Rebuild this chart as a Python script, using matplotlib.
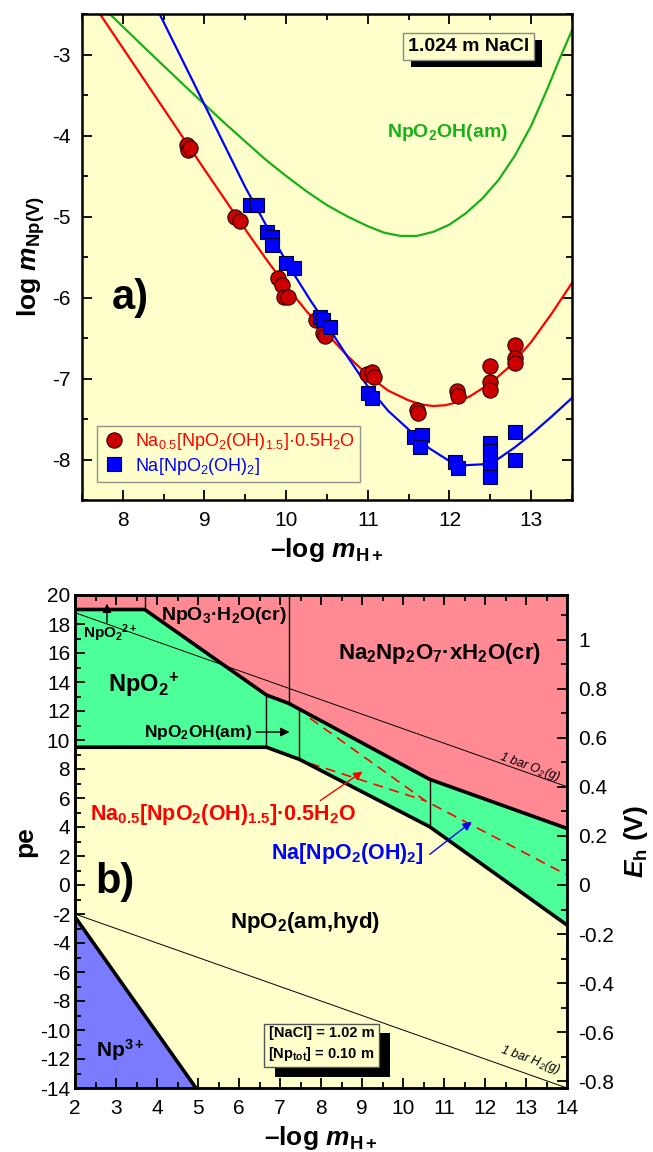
import numpy as np
import matplotlib
matplotlib.use("Agg")
import matplotlib.pyplot as plt
from matplotlib.ticker import MultipleLocator, FuncFormatter
import matplotlib.patheffects as pe_fx

plt.rcParams['font.family'] = ['Liberation Sans', 'DejaVu Sans']
plt.rcParams['mathtext.fontset'] = 'custom'
plt.rcParams['mathtext.rm'] = 'Liberation Sans'
plt.rcParams['mathtext.it'] = 'Liberation Sans:italic'
plt.rcParams['mathtext.bf'] = 'Liberation Sans:bold'
plt.rcParams['mathtext.bfit'] = 'Liberation Sans:italic:bold'

# ---------------- Panel a data ----------------
red_pts_x = [8.78, 8.80, 8.82, 9.37, 9.43, 9.90, 9.95, 9.97, 10.02, 10.37, 10.45, 10.48,
             10.99, 11.05, 11.07, 11.60, 11.62, 12.09, 12.11, 12.50, 12.50, 12.50,
             12.80, 12.80, 12.80]
red_pts_y = [-4.12, -4.18, -4.15, -5.00, -5.06, -5.76, -5.85, -5.99, -5.99, -6.28, -6.44, -6.48,
             -6.94, -6.92, -6.98, -7.39, -7.43, -7.16, -7.22, -6.84, -7.04, -7.14,
             -6.59, -6.75, -6.81]
blue_pts_x = [9.56, 9.64, 9.76, 9.83, 9.83, 10.00, 10.09, 10.41, 10.45, 10.54, 11.00, 11.05,
              11.56, 11.66, 11.64, 12.07, 12.11, 12.50, 12.50, 12.50, 12.50, 12.50, 12.80, 12.80]
blue_pts_y = [-4.86, -4.86, -5.19, -5.25, -5.35, -5.58, -5.64, -6.24, -6.28, -6.36, -7.18, -7.24,
              -7.72, -7.70, -7.84, -8.03, -8.11, -7.80, -7.90, -8.00, -8.11, -8.21, -7.66, -8.00]

red_curve_x = [7.72, 8.0, 8.5, 9.0, 9.5, 9.75, 10.0, 10.25, 10.5, 10.75, 11.0, 11.25, 11.5,
               11.65, 11.8, 11.95, 12.1, 12.25, 12.5, 12.75, 13.0, 13.25, 13.5]
red_curve_y = [-2.5, -2.92, -3.67, -4.42, -5.16, -5.52, -5.86, -6.17, -6.45, -6.72, -6.96, -7.15,
               -7.27, -7.32, -7.34, -7.33, -7.29, -7.22, -7.06, -6.84, -6.55, -6.2, -5.82]
blue_curve_x = [8.45, 9.0, 9.5, 9.75, 9.9, 10.1, 10.3, 10.5, 10.75, 11.0, 11.25, 11.5, 11.75,
                12.0, 12.2, 12.4, 12.6, 12.8, 13.0, 13.25, 13.5]
blue_curve_y = [-2.5, -3.62, -4.64, -5.1, -5.38, -5.72, -6.04, -6.34, -6.73, -7.1, -7.4, -7.63,
                -7.86, -8.02, -8.07, -8.06, -7.99, -7.85, -7.69, -7.47, -7.24]
green_curve_x = [7.84, 8.25, 8.75, 9.25, 9.75, 10.0, 10.25, 10.5, 10.75, 11.0, 11.2, 11.4,
                 11.6, 11.8, 12.0, 12.2, 12.4, 12.6, 12.8, 13.0, 13.2, 13.35, 13.5]
green_curve_y = [-2.5, -2.9, -3.38, -3.85, -4.3, -4.5, -4.69, -4.86, -5.0, -5.12, -5.2, -5.24,
                 -5.24, -5.19, -5.1, -4.96, -4.78, -4.55, -4.25, -3.88, -3.42, -3.05, -2.7]

# ---------------- Panel b data ----------------
upper_x = [2, 3.70, 6.67, 7.21, 10.65, 14]
upper_pe = [19, 19, 13.1, 12.53, 7.29, 3.9]
lower_x = [2, 6.67, 7.47, 10.65, 14]
lower_pe = [9.5, 9.5, 8.67, 4.02, -2.76]
np3_x = [2, 4.95]
np3_pe = [-2.2, -14]
vline_x = [3.70, 7.21, 6.67, 7.47, 10.65]
vline_lo = [19, 12.53, 9.5, 8.67, 4.02]
vline_hi = [20, 20, 13.1, 12.13, 7.29]
dash1_x = [7.73, 10.55, 14]
dash1_pe = [11.5, 5.8, 0.69]
dash2_x = [7.73, 10.55]
dash2_pe = [8.39, 5.8]
o2_x = [2, 14]
o2_pe = [18.78, 6.78]
h2_x = [2, 14]
h2_pe = [-2, -14]

YELLOW = '#FFFFCC'
PINK = '#FF8A93'
GREEN = '#4CFF98'
BLUE_FILL = '#7B7BFF'


def sub(s):
    return r'$_{\mathdefault{' + s + '}}$'


def sup(s):
    return r'$^{\mathdefault{' + s + '}}$'


fig = plt.figure(figsize=(6.53, 11.52), dpi=100)

# ================= Panel a =================
axa = fig.add_axes([82/653, 1-500/1152, 490/653, 486/1152])
axa.set_facecolor(YELLOW)
axa.plot(green_curve_x, green_curve_y, color='#18B018', lw=1.6, zorder=2)
axa.plot(red_curve_x, red_curve_y, color='#FF0000', lw=1.6, zorder=2)
axa.plot(blue_curve_x, blue_curve_y, color='#0000FF', lw=1.6, zorder=2)
axa.plot(red_pts_x, red_pts_y, 'o', ms=11, mfc='#CC0000', mec='#300000', mew=0.8, ls='none',
         zorder=3, label='Na' + sub('0.5') + '[NpO' + sub('2') + '(OH)' + sub('1.5') + ']·0.5H' + sub('2') + 'O')
axa.plot(blue_pts_x, blue_pts_y, 's', ms=10.5, mfc='#0000FF', mec='#000030', mew=0.8, ls='none',
         zorder=3, label='Na[NpO' + sub('2') + '(OH)' + sub('2') + ']')
axa.set_xlim(7.5, 13.5)
axa.set_ylim(-8.5, -2.5)
axa.xaxis.set_major_locator(MultipleLocator(1))
axa.xaxis.set_minor_locator(MultipleLocator(0.5))
axa.yaxis.set_major_locator(MultipleLocator(1))
axa.yaxis.set_minor_locator(MultipleLocator(0.5))
fmt = FuncFormatter(lambda v, p: f'{round(v, 3) + 0:g}')
axa.xaxis.set_major_formatter(fmt)
axa.yaxis.set_major_formatter(fmt)
axa.tick_params(which='both', direction='in', top=True, right=True, labelsize=15, width=1.3)
axa.tick_params(which='major', length=7, pad=8)
axa.tick_params(which='minor', length=4)
for s in axa.spines.values():
    s.set_linewidth(1.8)
axa.set_xlabel('–log $\\mathbfit{m}$' + sub('H+'), fontsize=19, fontweight='bold', labelpad=4)
axa.set_ylabel('log $\\mathbfit{m}$' + sub('Np(V)'), fontsize=19, fontweight='bold', labelpad=4)
leg = axa.legend(loc='lower left', bbox_to_anchor=(0.031, 0.037), borderaxespad=0, fontsize=13,
                 frameon=True, fancybox=False, edgecolor='#777777', facecolor=YELLOW,
                 handletextpad=0.5, borderpad=0.3, labelspacing=0.2, handlelength=1.3)
leg.get_frame().set_linewidth(1.0)
leg.get_texts()[0].set_color('#FF0000')
leg.get_texts()[1].set_color('#0000FF')
t = axa.text(12.23, -2.9, '1.024 m NaCl', fontsize=14, fontweight='bold', ha='center', va='center',
             bbox=dict(boxstyle='square,pad=0.25', fc=YELLOW, ec='#888888', lw=1.0), zorder=5)
t.get_bbox_patch().set_path_effects([pe_fx.withSimplePatchShadow(offset=(6, -5), shadow_rgbFace='k', alpha=1.0)])
axa.text(11.98, -3.96, 'NpO' + sub('2') + 'OH(am)', color='#18B018', fontsize=14, fontweight='bold',
         ha='center', va='center')
axa.text(8.09, -6.0, 'a)', fontsize=30, fontweight='bold', ha='center', va='center')

# ================= Panel b =================
axb = fig.add_axes([75/653, 1-1088/1152, 492/653, 493/1152])
axb.set_facecolor(YELLOW)
axb.set_xlim(2, 14)
axb.set_ylim(-14, 20)
axb.fill_between(upper_x, upper_pe, 20, color=PINK, lw=0, zorder=1)
axb.fill(list(upper_x) + list(lower_x[::-1]), list(upper_pe) + list(lower_pe[::-1]),
         color=GREEN, lw=0, zorder=1)
axb.fill(np3_x + [np3_x[0]], np3_pe + [np3_pe[1]], color=BLUE_FILL, lw=0, zorder=1)
axb.plot(upper_x, upper_pe, color='k', lw=2.6, zorder=4, solid_joinstyle='miter')
axb.plot(lower_x, lower_pe, color='k', lw=2.6, zorder=4, solid_joinstyle='miter')
axb.plot(np3_x, np3_pe, color='k', lw=2.6, zorder=4)
axb.vlines(vline_x, vline_lo, vline_hi, color='k', lw=1.0, zorder=3)
axb.plot(o2_x, o2_pe, color='k', lw=0.7, zorder=3)
axb.plot(h2_x, h2_pe, color='k', lw=0.7, zorder=3)
axb.plot(dash1_x, dash1_pe, color='#FF0000', lw=1.2, ls=(0, (6, 4)), zorder=3)
axb.plot(dash2_x, dash2_pe, color='#FF0000', lw=1.2, ls=(0, (6, 4)), zorder=3)

axb.xaxis.set_major_locator(MultipleLocator(1))
axb.xaxis.set_minor_locator(MultipleLocator(0.5))
axb.yaxis.set_major_locator(MultipleLocator(2))
axb.yaxis.set_minor_locator(MultipleLocator(1))
axb.xaxis.set_major_formatter(fmt)
axb.yaxis.set_major_formatter(fmt)
axb.tick_params(which='both', direction='in', top=True, right=False, labelsize=15, width=1.3, zorder=6)
axb.tick_params(which='major', length=7)
axb.tick_params(which='minor', length=4)
axb.tick_params(axis='x', pad=8)
for s in axb.spines.values():
    s.set_linewidth(1.8)
    s.set_zorder(6)
axb.set_xlabel('–log $\\mathbfit{m}$' + sub('H+'), fontsize=19, fontweight='bold', labelpad=4)
axb.set_ylabel('pe', fontsize=19, fontweight='bold', labelpad=2)

ax2 = axb.twinx()
ax2.set_ylim(-14 * 0.05916, 20 * 0.05916)
ax2.yaxis.set_major_locator(MultipleLocator(0.2))
ax2.yaxis.set_minor_locator(MultipleLocator(0.1))
ax2.yaxis.set_major_formatter(fmt)
ax2.tick_params(which='both', direction='in', labelsize=15, width=1.3)
ax2.tick_params(which='major', length=7, pad=8)
ax2.tick_params(which='minor', length=4)
for s in ax2.spines.values():
    s.set_linewidth(1.8)
ax2.set_ylabel('$\\mathbfit{E}$' + sub('h') + ' (V)', fontsize=19, fontweight='bold', labelpad=6)

# labels panel b
axb.text(5.63, 18.6, 'NpO' + sub('3') + '·H' + sub('2') + 'O(cr)', fontsize=14, fontweight='bold',
         ha='center', va='center', zorder=5)
axb.text(10.9, 16.0, 'Na' + sub('2') + 'Np' + sub('2') + 'O' + sub('7') + '·xH' + sub('2') + 'O(cr)',
         fontsize=16, fontweight='bold', ha='center', va='center', zorder=5)
axb.text(3.68, 13.8, 'NpO' + sub('2') + sup('+'), fontsize=17, fontweight='bold',
         ha='center', va='center', zorder=5)
axb.text(2.85, 17.4, 'NpO' + sub('2') + sup('2+'), fontsize=11, fontweight='bold',
         ha='center', va='center', zorder=5)
axb.annotate('', xy=(2.78, 19.6), xytext=(2.78, 17.9),
             arrowprops=dict(arrowstyle='-|>', color='k', lw=1.0, mutation_scale=13), zorder=5)
axb.text(4.99, 10.55, 'NpO' + sub('2') + 'OH(am)', fontsize=12.5, fontweight='bold',
         ha='center', va='center', zorder=5)
axb.annotate('', xy=(7.3, 10.55), xytext=(6.35, 10.55),
             arrowprops=dict(arrowstyle='-|>', color='k', lw=1.0, mutation_scale=13), zorder=5)
axb.text(5.6, 4.83, 'Na' + sub('0.5') + '[NpO' + sub('2') + '(OH)' + sub('1.5') + ']·0.5H' + sub('2') + 'O',
         color='#FF0000', fontsize=15.5, fontweight='bold', ha='center', va='center', zorder=5)
axb.annotate('', xy=(9.07, 7.93), xytext=(7.93, 5.72),
             arrowprops=dict(arrowstyle='-|>', color='#FF0000', lw=1.0, mutation_scale=13), zorder=5)
axb.text(8.65, 2.2, 'Na[NpO' + sub('2') + '(OH)' + sub('2') + ']', color='#0000FF', fontsize=15.5,
         fontweight='bold', ha='center', va='center', zorder=5)
axb.annotate('', xy=(11.73, 4.48), xytext=(10.6, 2.0),
             arrowprops=dict(arrowstyle='-|>', color='#0000FF', lw=1.0, mutation_scale=13), zorder=5)
axb.text(2.98, 0.2, 'b)', fontsize=30, fontweight='bold', ha='center', va='center', zorder=5)
axb.text(7.6, -2.6, 'NpO' + sub('2') + '(am,hyd)', fontsize=16, fontweight='bold',
         ha='center', va='center', zorder=5)
axb.text(3.1, -11.4, 'Np' + sup('3+'), fontsize=15, fontweight='bold', ha='center', va='center', zorder=5)
axb.text(13.1, 8.1, '1 bar O' + sub('2') + '(g)', fontsize=9, style='italic', rotation=-19.5,
         ha='center', va='center', zorder=5)
axb.text(13.1, -12.1, '1 bar H' + sub('2') + '(g)', fontsize=9, style='italic', rotation=-19.5,
         ha='center', va='center', zorder=5)
tb = axb.text(8.01, -11.0, '[NaCl] = 1.02 m\n[Np' + sub('tot') + '] = 0.10 m', fontsize=10.5,
              fontweight='bold', ha='center', va='center', linespacing=1.4,
              bbox=dict(boxstyle='square,pad=0.3', fc=YELLOW, ec='#555555', lw=1.0), zorder=7)
tb.get_bbox_patch().set_path_effects([pe_fx.withSimplePatchShadow(offset=(8, -7), shadow_rgbFace='k', alpha=1.0)])

fig.savefig('out.png', dpi=100)
